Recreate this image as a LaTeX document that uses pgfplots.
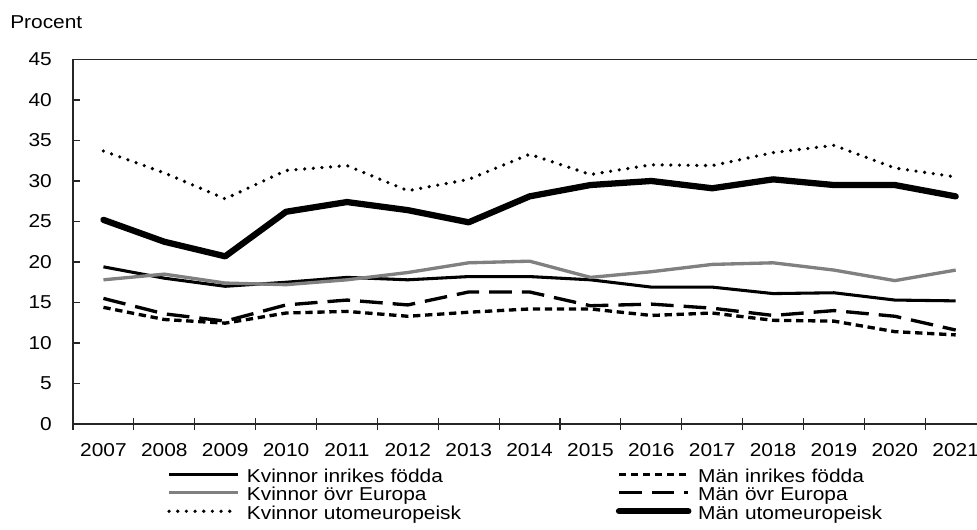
\documentclass[border=0pt]{standalone}
\usepackage{fontspec}
\setmainfont{Liberation Sans}[FakeStretch=1.12]
\usepackage{pgfplots}
\pgfplotsset{compat=1.18}
\begin{document}
\fontsize{14pt}{16pt}\selectfont
\begin{tikzpicture}[font=\fontsize{14pt}{16pt}\selectfont]
\begin{axis}[
  scale only axis, width=678pt, height=273.4pt,
  xmin=-0.5, xmax=14.35, ymin=0, ymax=45,
  clip=false,
  axis x line*=bottom, axis y line*=left,
  axis line style={black!85, line width=0.9pt},
  tick align=inside,
  /pgf/number format/assume math mode=true,
  xtick={0,...,14},
  xticklabels={2007,2008,2009,2010,2011,2012,2013,2014,2015,2016,2017,2018,2019,2020,2021},
  major x tick style={draw=none},
  minor xtick={-0.5,0.5,...,13.5},
  minor tick length=9pt,
  minor x tick style={black!85, line width=0.9pt, yshift=-4.5pt},
  ytick={0,5,...,45},
  major tick length=5.5pt,
  major y tick style={black!85, line width=0.9pt},
  xticklabel style={yshift=-9.5pt},
  yticklabel style={xshift=-11pt},
  no markers,
  legend columns=2,
  legend style={at={(0,0)}, anchor=north west, xshift=70.5pt, yshift=-33.5pt,
    draw=none, fill=none, inner sep=0pt,
    nodes={inner sep=0pt, text height=10pt, text depth=3.9pt, text width=270pt, align=left},
    /tikz/every odd column/.style={column sep=5pt},
    /tikz/every even column/.style={column sep=6.75pt},
    row sep=0pt},
  legend image code/.code={\draw[#1] (0pt,3pt) -- (52pt,3pt);},
]
\addplot[black, line width=2.3pt, line join=round] coordinates {
(0,19.4) (1,18.0) (2,17.0) (3,17.5) (4,18.1) (5,17.8) (6,18.2) (7,18.2) (8,17.8) (9,16.9) (10,16.9) (11,16.1) (12,16.2) (13,15.3) (14,15.2)};
\addlegendentry{Kvinnor inrikes födda}
\addplot[black, line width=2.5pt, dash pattern=on 5.5pt off 3.5pt] coordinates {
(0,14.4) (1,12.9) (2,12.45) (3,13.7) (4,13.9) (5,13.3) (6,13.8) (7,14.2) (8,14.2) (9,13.4) (10,13.7) (11,12.8) (12,12.7) (13,11.4) (14,11.0)};
\addlegendentry{Män inrikes födda}
\addplot[color={rgb,255:red,128;green,128;blue,128}, line width=2.5pt, line join=round] coordinates {
(0,17.8) (1,18.5) (2,17.4) (3,17.2) (4,17.8) (5,18.7) (6,19.9) (7,20.1) (8,18.1) (9,18.8) (10,19.7) (11,19.9) (12,19.0) (13,17.7) (14,19.0)};
\addlegendentry{Kvinnor övr Europa}
\addplot[black, line width=2.5pt, dash pattern=on 17pt off 7.5pt] coordinates {
(0,15.5) (1,13.6) (2,12.7) (3,14.7) (4,15.3) (5,14.7) (6,16.3) (7,16.3) (8,14.6) (9,14.8) (10,14.3) (11,13.4) (12,14.0) (13,13.3) (14,11.6)};
\addlegendentry{Män övr Europa}
\addplot[black, line width=2.7pt, line cap=round, dash pattern=on 0pt off 6.5pt] coordinates {
(0,33.7) (1,31.0) (2,27.8) (3,31.3) (4,31.9) (5,28.8) (6,30.2) (7,33.3) (8,30.8) (9,32.0) (10,31.9) (11,33.5) (12,34.4) (13,31.6) (14,30.5)};
\addlegendentry{Kvinnor utomeuropeisk}
\addplot[black, line width=4.7pt, line join=round, line cap=round] coordinates {
(0,25.2) (1,22.5) (2,20.7) (3,26.2) (4,27.4) (5,26.4) (6,24.9) (7,28.1) (8,29.5) (9,30.0) (10,29.1) (11,30.2) (12,29.5) (13,29.5) (14,28.1)};
\addlegendentry{Män utomeuropeisk}
\draw[black!85, line width=0.9pt] (rel axis cs:0,1) -- (rel axis cs:1,1);
\node[anchor=base west, inner sep=0pt] at (rel axis cs:0,1) [xshift=-47.25pt, yshift=22.9pt] {Procent};
\end{axis}
\pgfresetboundingbox
\path (-54.75pt,-78.75pt) rectangle (678pt,318pt);
\end{tikzpicture}
\end{document}
